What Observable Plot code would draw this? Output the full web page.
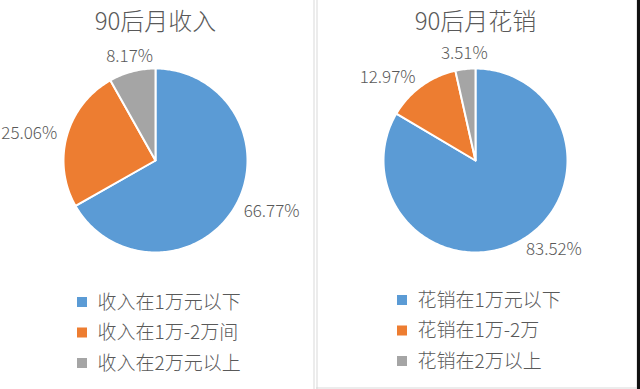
<!DOCTYPE html>
<html>
<head>
<meta charset="utf-8">
<script src="https://cdn.jsdelivr.net/npm/d3@7"></script>
<script src="https://cdn.jsdelivr.net/npm/@observablehq/plot@0.6"></script>
<style>
  html, body { margin: 0; padding: 0; background: #fff; }
  #chart svg { display: block; }
</style>
</head>
<body>
<div id="chart"></div>
<script>
// ---- data ----
const titles = ["90后月收入", "90后月花销"];
const incomeCategories = ["收入在1万元以下", "收入在1万-2万间", "收入在2万元以上"];
const incomeValues = [66.77, 25.06, 8.17];
const spendCategories = ["花销在1万元以下", "花销在1万-2万", "花销在2万以上"];
const spendValues = [83.52, 12.97, 3.51];
const sliceColors = ["#5B9BD5", "#ED7D31", "#A5A5A5"];

// ---- layout ----
const W = 640, H = 389;
const font = "'Noto Sans CJK SC', 'Noto Sans', sans-serif";
const textColor = "#595959";
const panels = [
  {title: titles[0], cats: incomeCategories, vals: incomeValues, cx: 155, cy: 160, r: 92, legX: 77, legY: 302},
  {title: titles[1], cats: spendCategories, vals: spendValues, cx: 475, cy: 160, r: 92, legX: 397, legY: 300}
];

const marks = [];

for (const p of panels) {
  const total = d3.sum(p.vals);
  let acc = 0;
  const labels = [];
  p.vals.forEach((v, i) => {
    const a0 = acc / total * 2 * Math.PI;
    acc += v;
    const a1 = acc / total * 2 * Math.PI;
    const pts = [{x: p.cx, y: p.cy}];
    const n = Math.max(2, Math.ceil((a1 - a0) / (Math.PI / 180)));
    for (let k = 0; k <= n; k++) {
      const a = a0 + (a1 - a0) * k / n;
      pts.push({x: p.cx + p.r * Math.sin(a), y: p.cy - p.r * Math.cos(a)});
    }
    marks.push(Plot.line(pts, {x: "x", y: "y", fill: sliceColors[i], stroke: "white", strokeWidth: 2, curve: "linear-closed"}));
    // label (outside end, anchored by side)
    const mid = (a0 + a1) / 2;
    const s = Math.sin(mid), c = -Math.cos(mid);
    const d = p.r + 10;
    let anchor, line;
    if (Math.abs(s) < 0.35) { anchor = "middle"; line = c < 0 ? "bottom" : "top"; }
    else { anchor = s > 0 ? "start" : "end"; line = "middle"; }
    labels.push({x: p.cx + s * d, y: p.cy + c * d, text: v.toFixed(2) + "%", anchor, line});
  });
  for (const L of labels) {
    marks.push(Plot.text([L], {x: "x", y: "y", text: "text", textAnchor: L.anchor, lineAnchor: L.line,
      fontSize: 17, fontWeight: 300, fill: textColor, fontFamily: font}));
  }
  // title
  marks.push(Plot.text([p.title], {x: () => p.cx, y: () => 22, text: d => d, fontSize: 24, fontWeight: 300,
    fill: textColor, fontFamily: font, lineAnchor: "middle"}));
  // legend
  const leg = p.cats.map((c, i) => ({cat: c, color: sliceColors[i], y: p.legY + i * 30.5}));
  marks.push(Plot.rect(leg, {x1: () => p.legX, x2: () => p.legX + 10, y1: d => d.y - 5, y2: d => d.y + 5, fill: "color"}));
  marks.push(Plot.text(leg, {x: () => p.legX + 20, y: "y", text: "cat", textAnchor: "start", lineAnchor: "middle",
    fontSize: 19, fontWeight: 300, fill: textColor, fontFamily: font}));
}

// frame decorations
marks.push(Plot.ruleX([313.5, 316.5], {y1: 0, y2: H, stroke: "#d9d9d9", strokeWidth: 1}));
marks.push(Plot.ruleX([636.5], {y1: 0, y2: H, stroke: "#cfcfcf", strokeWidth: 1}));
marks.push(Plot.ruleY([387.5], {x1: 316, x2: 637, stroke: "#d9d9d9", strokeWidth: 1}));
marks.push(Plot.rect([0], {x1: 637, x2: W, y1: 0, y2: H, fill: "#111"}));

const chart = Plot.plot({
  width: W,
  height: H,
  margin: 0,
  x: {domain: [0, W], range: [0, W], axis: null},
  y: {domain: [0, H], range: [0, H], axis: null},
  style: {background: "#fff", fontFamily: font},
  marks
});
document.getElementById("chart").appendChild(chart);
</script>
</body>
</html>
